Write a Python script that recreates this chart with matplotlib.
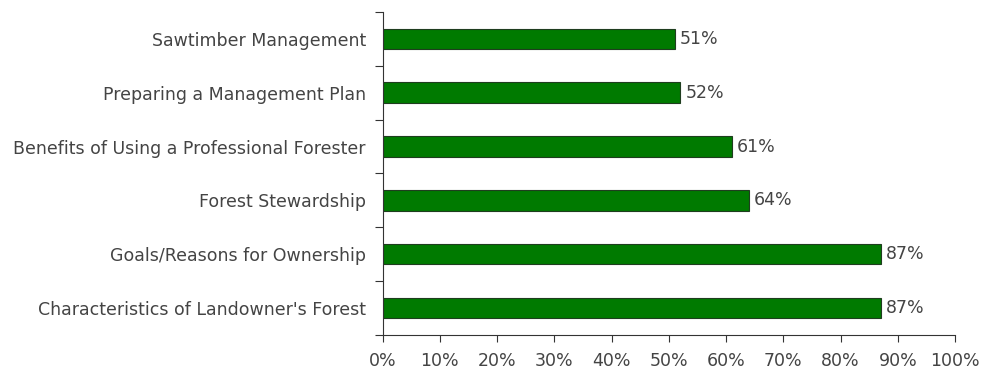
import matplotlib.pyplot as plt
import numpy as np

plt.rcParams['font.family'] = ['DejaVu Sans']

categories = [
    "Sawtimber Management",
    "Preparing a Management Plan",
    "Benefits of Using a Professional Forester",
    "Forest Stewardship",
    "Goals/Reasons for Ownership",
    "Characteristics of Landowner's Forest",
]
values = [51, 52, 61, 64, 87, 87]
x_ticks = [0, 10, 20, 30, 40, 50, 60, 70, 80, 90, 100]

fs = 12.5
fig = plt.figure(figsize=(9.81, 3.73), dpi=100)
ax = fig.add_axes([0.390, 0.102, 0.5835, 0.866])

y = np.arange(len(categories))
ax.barh(y, values, height=0.38, color='#007a00', edgecolor='#1f3d1f', linewidth=0.8)

for yi, v in zip(y, values):
    ax.text(v + 0.9, yi, f"{v}%", va='center', ha='left', fontsize=fs, color='#444444')

ax.set_ylim(len(categories) - 0.5, -0.5)
ax.set_xlim(0, 100)
ax.set_yticks(y)
ax.set_yticklabels(categories)
ax.set_yticks(np.arange(len(categories) + 1) - 0.5, minor=True)
ax.tick_params(axis='y', which='major', length=0, pad=12, labelsize=fs, labelcolor='#444444')
ax.tick_params(axis='y', which='minor', length=6, width=0.8, color='#333333')
ax.set_xticks(x_ticks)
ax.set_xticklabels([f"{t}%" for t in x_ticks])
ax.tick_params(axis='x', length=5, width=0.8, color='#333333', labelsize=fs, labelcolor='#444444', pad=7)

for s in ['top', 'right']:
    ax.spines[s].set_visible(False)
for s in ['left', 'bottom']:
    ax.spines[s].set_color('#333333')
    ax.spines[s].set_linewidth(0.8)

fig.savefig('out.png', dpi=100)
